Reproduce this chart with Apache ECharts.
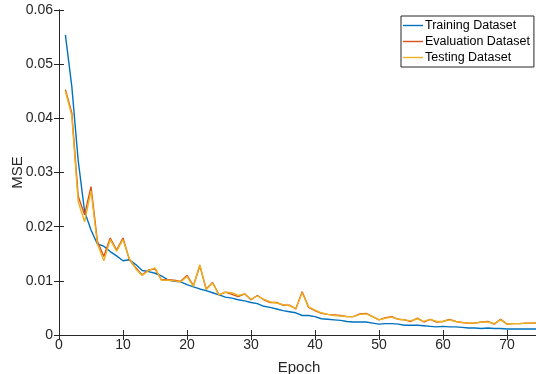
<!DOCTYPE html>
<html>
<head>
<meta charset="utf-8">
<script src="https://cdn.jsdelivr.net/npm/echarts@6/dist/echarts.min.js"></script>
<style>
  html, body { margin: 0; padding: 0; background: #fff; }
  #main { width: 536px; height: 374px; }
</style>
</head>
<body>
<div id="main"></div>
<script>
var epochs = [];
for (var i = 1; i <= 75; i++) epochs.push(i);

var training = [0.0554, 0.0459, 0.0322, 0.0228, 0.0194, 0.0168, 0.0164, 0.0154, 0.0146, 0.0137,
  0.0139, 0.0130, 0.0119, 0.0117, 0.0114, 0.0109, 0.0102, 0.0099, 0.0098, 0.0093,
  0.0089, 0.0085, 0.0082, 0.0078, 0.0074, 0.0070, 0.0068, 0.0065, 0.0063, 0.0060,
  0.0058, 0.0053, 0.0051, 0.0048, 0.0045, 0.0043, 0.0041, 0.0036, 0.0036, 0.0034,
  0.0030, 0.0029, 0.0028, 0.0027, 0.0025, 0.0024, 0.0024, 0.0024, 0.0022, 0.0020,
  0.0021, 0.0021, 0.0020, 0.0018, 0.0018, 0.0018, 0.0017, 0.0016, 0.0015, 0.0016,
  0.0015, 0.0015, 0.0014, 0.0013, 0.0013, 0.0012, 0.0013, 0.0012, 0.0012, 0.0011,
  0.0011, 0.0011, 0.0011, 0.0011, 0.0011];

var evaluation = [0.0453, 0.0410, 0.0256, 0.0222, 0.0274, 0.0173, 0.0145, 0.0179, 0.0157, 0.0179,
  0.0139, 0.0124, 0.0111, 0.0120, 0.0122, 0.0102, 0.0102, 0.0101, 0.0099, 0.0110,
  0.0091, 0.0128, 0.0085, 0.0097, 0.0074, 0.0079, 0.0075, 0.0071, 0.0076, 0.0065,
  0.0073, 0.0065, 0.0060, 0.0060, 0.0055, 0.0055, 0.0048, 0.0080, 0.0051, 0.0045,
  0.0040, 0.0038, 0.0037, 0.0036, 0.0034, 0.0034, 0.0039, 0.0040, 0.0034, 0.0028,
  0.0032, 0.0034, 0.0029, 0.0028, 0.0025, 0.0031, 0.0024, 0.0029, 0.0024, 0.0025,
  0.0029, 0.0025, 0.0023, 0.0022, 0.0022, 0.0024, 0.0025, 0.0020, 0.0029, 0.0020,
  0.0021, 0.0021, 0.0022, 0.0022, 0.0023];

var testing = [0.0450, 0.0405, 0.0246, 0.0209, 0.0266, 0.0168, 0.0137, 0.0176, 0.0155, 0.0176,
  0.0141, 0.0122, 0.0110, 0.0119, 0.0124, 0.0101, 0.0101, 0.0100, 0.0098, 0.0108,
  0.0090, 0.0130, 0.0084, 0.0096, 0.0074, 0.0079, 0.0078, 0.0073, 0.0076, 0.0066,
  0.0072, 0.0066, 0.0061, 0.0059, 0.0056, 0.0054, 0.0049, 0.0078, 0.0052, 0.0046,
  0.0041, 0.0038, 0.0036, 0.0035, 0.0034, 0.0034, 0.0038, 0.0039, 0.0034, 0.0028,
  0.0031, 0.0033, 0.0029, 0.0028, 0.0026, 0.0030, 0.0025, 0.0029, 0.0025, 0.0025,
  0.0028, 0.0025, 0.0023, 0.0022, 0.0022, 0.0024, 0.0024, 0.0021, 0.0028, 0.0020,
  0.0021, 0.0021, 0.0022, 0.0022, 0.0023];

var seriesNames = ['Training Dataset', 'Evaluation Dataset', 'Testing Dataset'];
var colors = ['#0072BD', '#D95319', '#EDB120'];

function pairs(ys) {
  return ys.map(function (y, i) { return [epochs[i], y]; });
}

var axisCol = '#262626';
var font = 'Liberation Sans, Arial, Helvetica, sans-serif';

var myChart = echarts.init(document.getElementById('main'), null, { renderer: 'canvas' });

var option = {
  animation: false,
  backgroundColor: '#fff',
  color: colors,
  grid: { left: 59, top: 10, width: 480, height: 325, outerBoundsMode: 'none', containLabel: false },
  legend: {
    orient: 'vertical',
    left: 401,
    top: 16,
    padding: [3, 4, 3, 2],
    itemGap: 3,
    itemWidth: 20,
    itemHeight: 12,
    borderColor: axisCol,
    borderWidth: 1,
    borderRadius: 0,
    backgroundColor: '#fff',
    textStyle: { fontFamily: font, fontSize: 12.5, color: '#000', padding: [0, 0, 0, -3] },
    data: seriesNames.map(function (n) {
      return { name: n, icon: 'path://M0 0H20V1.4H0Z' };
    })
  },
  xAxis: [{
    type: 'value', min: 0, max: 75, interval: 10,
    name: 'Epoch', nameLocation: 'middle', nameGap: 25,
    nameTextStyle: { fontFamily: font, fontSize: 15, color: axisCol },
    axisLine: { lineStyle: { color: axisCol, width: 1 } },
    axisTick: { inside: true, length: 5, lineStyle: { color: axisCol } },
    axisLabel: { fontFamily: font, fontSize: 14, color: axisCol, margin: 3, showMaxLabel: false },
    splitLine: { show: false }
  }, {
    type: 'value', min: 0, max: 75, interval: 10, position: 'top',
    axisLine: { lineStyle: { color: axisCol, width: 1 } },
    axisTick: { inside: true, length: 5, lineStyle: { color: axisCol } },
    axisLabel: { show: false },
    splitLine: { show: false }
  }],
  yAxis: [{
    type: 'value', min: 0, max: 0.06, interval: 0.01,
    name: 'MSE', nameLocation: 'middle', nameGap: 34, nameRotate: 90, nameMoveOverlap: false,
    nameTextStyle: { fontFamily: font, fontSize: 15, color: axisCol },
    axisLine: { show: true, lineStyle: { color: axisCol, width: 1 } },
    axisTick: { show: true, inside: true, length: 5, lineStyle: { color: axisCol } },
    axisLabel: { fontFamily: font, fontSize: 14, color: axisCol, margin: 6 },
    splitLine: { show: false }
  }, {
    type: 'value', min: 0, max: 0.06, interval: 0.01, position: 'right',
    axisLine: { show: true, lineStyle: { color: axisCol, width: 1 } },
    axisTick: { show: true, inside: true, length: 5, lineStyle: { color: axisCol } },
    axisLabel: { show: false },
    splitLine: { show: false }
  }],
  series: [training, evaluation, testing].map(function (ys, k) {
    return {
      name: seriesNames[k],
      type: 'line',
      data: pairs(ys),
      symbol: 'none',
      lineStyle: { width: 1.4, color: colors[k] },
      itemStyle: { color: colors[k] },
      z: 2 + k
    };
  })
};

myChart.setOption(option);
</script>
</body>
</html>
